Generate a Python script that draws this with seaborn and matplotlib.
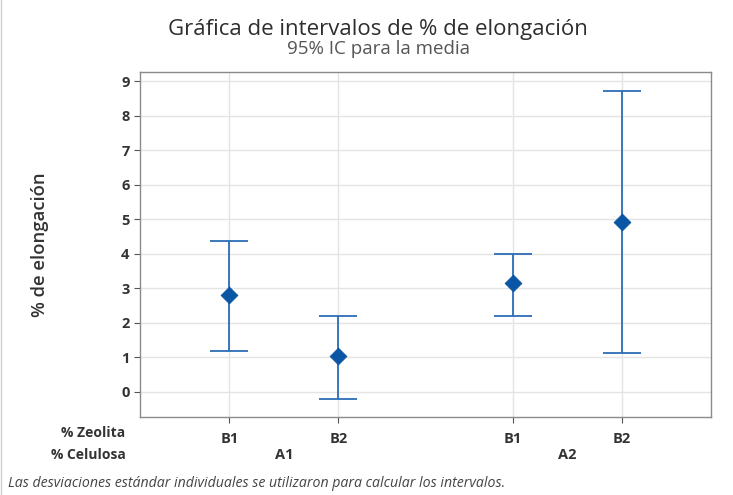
"""Interval plot of % elongation (95% CI for the mean)."""

import matplotlib

matplotlib.use("Agg")

import matplotlib.pyplot as plt
import seaborn as sns
import pandas as pd

celulosa = ["A1", "A1", "A2", "A2"]
zeolita = ["B1", "B2", "B1", "B2"]
media = [2.79, 1.02, 3.14, 4.92]
ic_inferior = [1.19, -0.22, 2.20, 1.11]
ic_superior = [4.36, 2.20, 4.00, 8.73]

sns.set_theme(style="whitegrid")
plt.rcParams["font.family"] = ["Open Sans", "DejaVu Sans"]

# Minitab leaves a wider gap between the %Celulosa groups
group_gap = 2.6
positions = []
for c, z in zip(celulosa, zeolita):
    group = sorted(set(celulosa)).index(c)
    within = sorted(set(zeolita)).index(z)
    positions.append(group * group_gap + within)

data = pd.DataFrame({
    "pos": positions,
    "media": media,
    "low": ic_inferior,
    "high": ic_superior,
})

fig = plt.figure(figsize=(7.33, 4.95), dpi=100)
ax = fig.add_axes([0.191, 0.158, 0.779, 0.697])

line_color = "#2C6DB5"
ax.errorbar(
    data["pos"], data["media"],
    yerr=[data["media"] - data["low"], data["high"] - data["media"]],
    fmt="none", ecolor=line_color, elinewidth=1.3, capsize=13.5, capthick=1.3,
    zorder=2,
)
sns.scatterplot(data=data, x="pos", y="media", marker="D", s=72,
                color="#0B56A4", edgecolor="#0B56A4", ax=ax, zorder=3)

ax.set_xlim(positions[0] - 0.82, positions[-1] + 0.82)
ax.set_ylim(-0.73, 9.28)
ax.set_yticks(range(0, 10))
ax.set_xticks(positions)
ax.set_xticklabels(zeolita)
ax.tick_params(axis="both", labelsize=10.5, colors="#333333", length=4,
               width=0.8, direction="out")
ax.tick_params(axis="y", color="#555555", left=True)
ax.tick_params(axis="x", color="#555555", bottom=True, pad=7)
for lbl in ax.get_xticklabels() + ax.get_yticklabels():
    lbl.set_fontweight("bold")

ax.grid(True, color="#E4E4E4", linewidth=1.0)
for spine in ax.spines.values():
    spine.set_color("#8A8A8A")
    spine.set_linewidth(1.0)

ax.set_xlabel("")
ax.set_ylabel("% de elongación", fontsize=13.3, fontweight="semibold",
              color="#333333", labelpad=52)

# second level of the x axis: %Celulosa groups
trans = ax.get_xaxis_transform()
for c in sorted(set(celulosa)):
    xs = [p for p, g in zip(positions, celulosa) if g == c]
    ax.text(sum(xs) / len(xs), -0.112, c, transform=trans, ha="center",
            va="center", fontsize=10.5, fontweight="bold", color="#333333")

fig.text(0.171, 0.125, "% Zeolita", ha="right", va="center", fontsize=10,
         fontweight="bold", color="#333333")
fig.text(0.171, 0.080, "% Celulosa", ha="right", va="center", fontsize=10,
         fontweight="bold", color="#333333")

fig.text(0.516, 0.940, "Gráfica de intervalos de % de elongación", ha="center",
         va="center", fontsize=16, fontweight="medium", color="#2E2E2E")
fig.text(0.516, 0.900, "95% IC para la media", ha="center", va="center",
         fontsize=13.5, color="#555555")

fig.text(0.011, 0.024,
         "Las desviaciones estándar individuales se utilizaron para calcular los intervalos.",
         ha="left", va="center", fontsize=10.2, style="italic", color="#444444")

fig.patches.append(plt.Rectangle((0.001, -0.01), 1.2, 1.2, transform=fig.transFigure,
                                 fill=False, edgecolor="#CFCFCF", linewidth=1.0))

fig.savefig("out.png", dpi=100)
plt.close(fig)
